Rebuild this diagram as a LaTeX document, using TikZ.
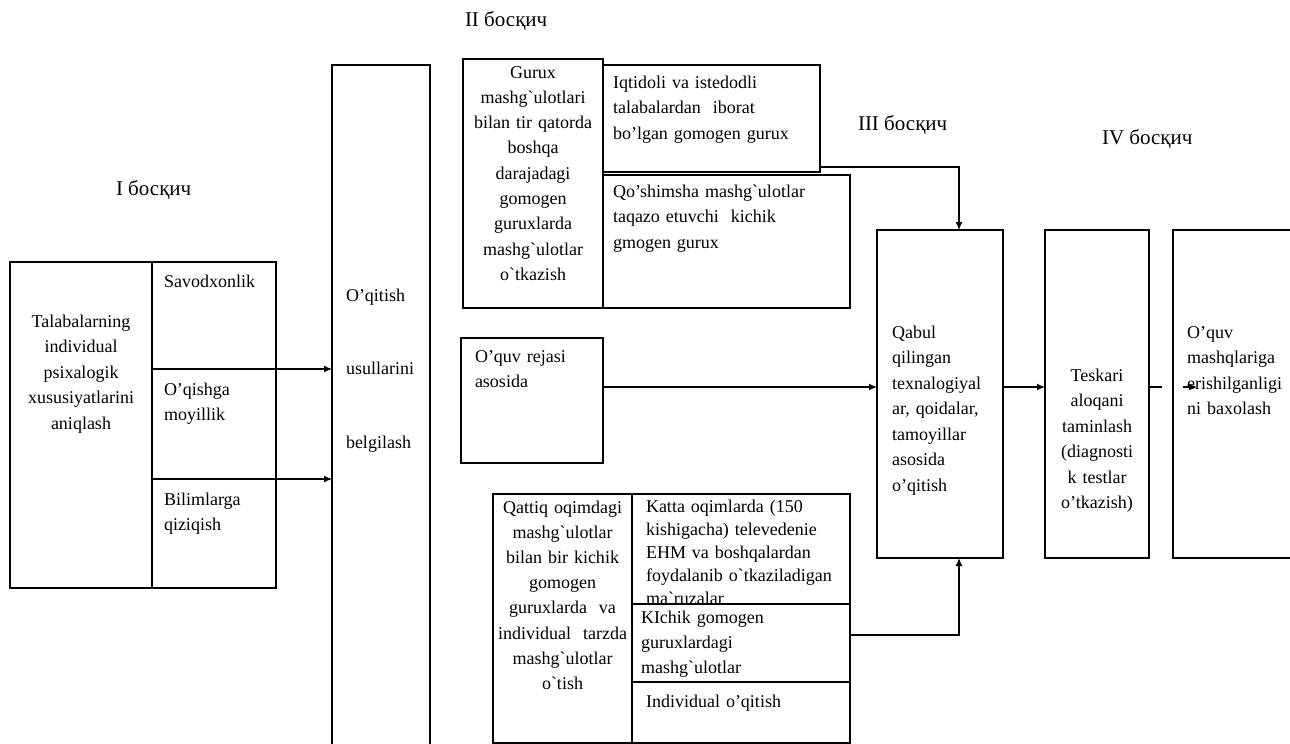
\documentclass[tikz,border=0pt]{standalone}
\usepackage{fontspec}
\setmainfont{Liberation Serif}[Ligatures=TeXOff]
\usetikzlibrary{arrows.meta,calc}

% a framed cell given by its top-left and bottom-right corners
\newcommand\placebox[5]{%
  \node[cellbox, minimum width={(#4)-(#2)}, minimum height={(#5)-(#3)}] (#1) at (#2,#3) {};}

\tikzset{
  cellbox/.style={draw=black, line width=1.2pt, inner sep=0pt, outer sep=0pt, anchor=north west},
  body/.style={inner sep=0pt, outer sep=0pt, font=\fontsize{18}{25.5}\selectfont},
  lefttext/.style={body, text width=240pt, align=left, anchor=base west},
  midtext/.style={body, text width=200pt, align=center, anchor=base},
  stage/.style={inner sep=0pt, outer sep=0pt, font=\fontsize{21}{25}\selectfont, anchor=base west},
  arr/.style={line width=1.2pt, -{Latex[length=8pt,width=7pt]}},
  link/.style={line width=1.2pt},
}

\begin{document}
\begin{tikzpicture}[x=1pt,y=-1pt]
\path[use as bounding box, clip] (0,0) rectangle (1290,744);
\fill[white] (0,0) rectangle (1290,744);

% stage headings
\node[stage] (s1) at (116,195) {I босқич};
\node[stage] (s2) at (465,27) {II босқич};
\node[stage] (s3) at (858,130) {III босқич};
\node[stage] (s4) at (1102,144) {IV босқич};

% stage I
\placebox{talab}{10}{262}{152}{588}
\placebox{savod}{152}{262}{276}{369}
\placebox{oqish}{152}{369}{276}{479}
\placebox{bilim}{152}{479}{276}{588}
\node[midtext] (talabT) at (81,327) {Talabalarning\\individual\\psixalogik\\xususiyatlarini\\aniqlash};
\node[lefttext] (savodT) at (164,287) {Savodxonlik};
\node[lefttext] (oqishT) at (164,395) {O’qishga\\moyillik};
\node[lefttext] (bilimT) at (164,505) {Bilimlarga\\qiziqish};

% teaching methods column
\placebox{oqitish}{332}{65}{430}{800}
\node[lefttext, font=\fontsize{18}{73.5}\selectfont] (oqitishT) at (346,301) {O’qitish\\usullarini\\belgilash};

\draw[arr] (savod.south west) -- (savod.south west -| oqitish.west);
\draw[arr] (oqish.south west) -- (oqish.south west -| oqitish.west);

% stage II
\placebox{gurux}{463}{59}{603}{308}
\placebox{iqtid}{603}{65}{820}{172}
\placebox{qosh}{603}{175}{850}{308}
\node[midtext, font=\fontsize{18}{25.3}\selectfont] (guruxT) at (533,78) {Gurux\\mashg`ulotlari\\bilan tir qatorda\\boshqa\\darajadagi\\gomogen\\guruxlarda\\mashg`ulotlar\\o`tkazish};
\node[lefttext] (iqtidT) at (613,88) {Iqtidoli va istedodli\\talabalardan\ \ iborat\\bo’lgan gomogen gurux};
\node[lefttext] (qoshT) at (613,197) {Qo’shimsha mashg`ulotlar\\taqazo etuvchi\ \ kichik\\gmogen gurux};

\placebox{reja}{461}{338}{603}{463}
\node[lefttext] (rejaT) at (475,362) {O’quv rejasi\\asosida};

\placebox{qattiq}{493}{494}{632}{743}
\placebox{katta}{632}{494}{850}{604}
\placebox{kichik}{632}{604}{850}{682}
\placebox{indiv}{632}{682}{850}{743}
\node[midtext, font=\fontsize{18}{25.2}\selectfont] (qattiqT) at (562.5,513) {Qattiq oqimdagi\\mashg`ulotlar\\bilan bir kichik\\gomogen\\guruxlarda\ \ va\\individual\ \ tarzda\\mashg`ulotlar\\o`tish};
\begin{scope}
  \clip (katta.north west) rectangle (katta.south east);
  \node[lefttext, font=\fontsize{18}{23.2}\selectfont] (kattaT) at (646,512) {Katta oqimlarda (150\\kishigacha) televedenie\\EHM va boshqalardan\\foydalanib o`tkaziladigan\\ma`ruzalar};
\end{scope}
\node[lefttext, font=\fontsize{18}{25}\selectfont] (kichikT) at (641,623) {KIchik gomogen\\guruxlardagi\\mashg`ulotlar};
\node[lefttext] (indivT) at (646,707) {Individual o’qitish};

% stage III and IV
\placebox{qabul}{877}{230}{1003}{558}
\placebox{teskari}{1045}{230}{1149}{558}
\placebox{oquv}{1173}{230}{1320}{558}
\node[lefttext] (qabulT) at (892,338) {Qabul\\qilingan\\texnalogiyal\\ar, qoidalar,\\tamoyillar\\asosida\\o’qitish};
\node[midtext] (teskariT) at (1097,381) {Teskari\\aloqani\\taminlash\\(diagnosti\\k testlar\\o’tkazish)};
\node[lefttext] (oquvT) at (1187,338) {O’quv\\mashqlariga\\erishilganligi\\ni baxolash};

% connectors into and out of stage III
\coordinate (row) at (0,387);
\coordinate (drop) at (959,0);
\draw[arr] ([yshift=5pt]iqtid.south east) -| (drop |- qabul.north);
\draw[arr] (reja.east |- row) -- (qabul.west |- row);
\draw[arr] ([yshift=8pt]kichik.east) -| (drop |- qabul.south);
\draw[arr] (qabul.east |- row) -- (teskari.west |- row);
\coordinate (gapA) at (1162,387);
\coordinate (tipA) at (1183,387);
\coordinate (tipB) at (1197,387);
\draw[link] (teskari.east |- row) -- (gapA);
\draw[arr] (tipA) -- (tipB);
\end{tikzpicture}
\end{document}
